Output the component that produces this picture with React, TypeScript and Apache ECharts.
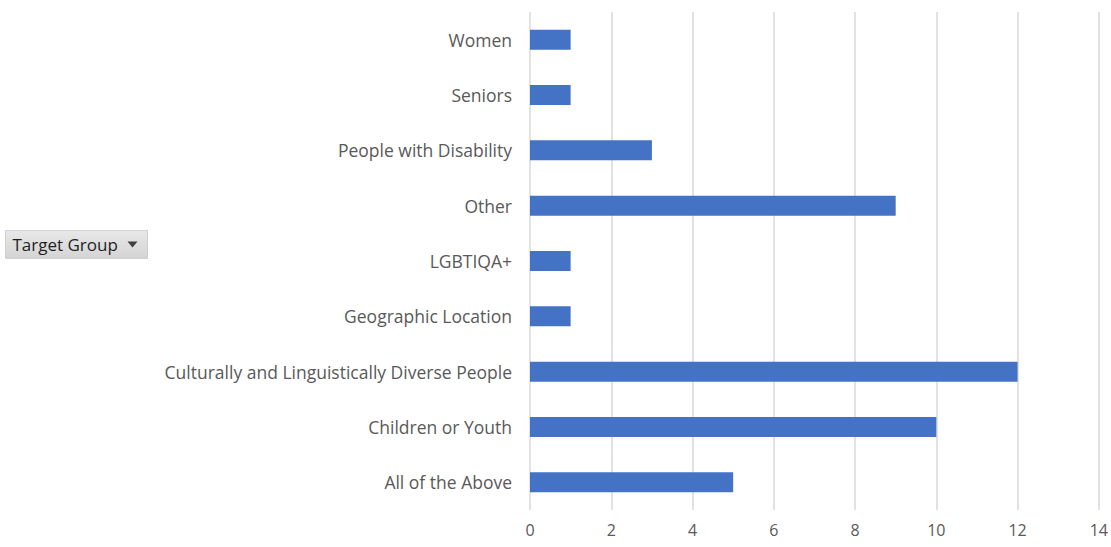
import React, { useEffect, useRef } from "react";
import * as echarts from "echarts";

const categories = [
  "All of the Above",
  "Children or Youth",
  "Culturally and Linguistically Diverse People",
  "Geographic Location",
  "LGBTIQA+",
  "Other",
  "People with Disability",
  "Seniors",
  "Women",
];
const values = [5, 10, 12, 1, 1, 9, 3, 1, 1];
const xTicks = { min: 0, max: 14, interval: 2 };

export default function App() {
  const ref = useRef<HTMLDivElement>(null);
  useEffect(() => {
    if (!ref.current) return;
    const chart = echarts.init(ref.current, undefined, { renderer: "svg" });
    const font = "'Open Sans', 'Noto Sans', sans-serif";
    chart.setOption({
      animation: false,
      grid: { left: 530, right: 12, top: 12, bottom: 37, containLabel: false },
      xAxis: {
        type: "value",
        min: xTicks.min,
        max: xTicks.max,
        interval: xTicks.interval,
        axisLine: { show: false },
        axisTick: { show: false },
        axisLabel: { color: "#595959", fontSize: 16, fontFamily: font, margin: 12 },
        splitLine: { show: true, lineStyle: { color: "#d9d9d9", width: 1.5 } },
      },
      yAxis: {
        type: "category",
        data: categories,
        axisLine: { show: false },
        axisTick: { show: false },
        axisLabel: { color: "#595959", fontSize: 17.5, fontFamily: font, margin: 18 },
        splitLine: { show: false },
      },
      series: [
        {
          type: "bar",
          data: values,
          barWidth: 20,
          itemStyle: { color: "#4472c4" },
        },
      ],
      graphic: [
        {
          type: "group",
          left: 5,
          top: 230,
          children: [
            {
              type: "rect",
              shape: { x: 0, y: 0, width: 142, height: 28 },
              style: {
                fill: new echarts.graphic.LinearGradient(0, 0, 0, 1, [
                  { offset: 0, color: "#e8e8e8" },
                  { offset: 1, color: "#d4d4d4" },
                ]),
                stroke: "#d0d0d0",
                lineWidth: 1,
              },
            },
            {
              type: "text",
              x: 7,
              y: 14,
              style: {
                text: "Target Group",
                fill: "#1f1f1f",
                font: "17px 'Open Sans', 'Noto Sans', sans-serif",
                verticalAlign: "middle",
              },
            },
            {
              type: "polygon",
              shape: { points: [[122, 11], [132, 11], [127, 17]] },
              style: { fill: "#404040" },
            },
          ],
        },
      ],
    });
    return () => chart.dispose();
  }, []);
  return (
    <div
      ref={ref}
      style={{ position: "fixed", left: 0, top: 0, width: 1111, height: 547, background: "#fff" }}
    />
  );
}
